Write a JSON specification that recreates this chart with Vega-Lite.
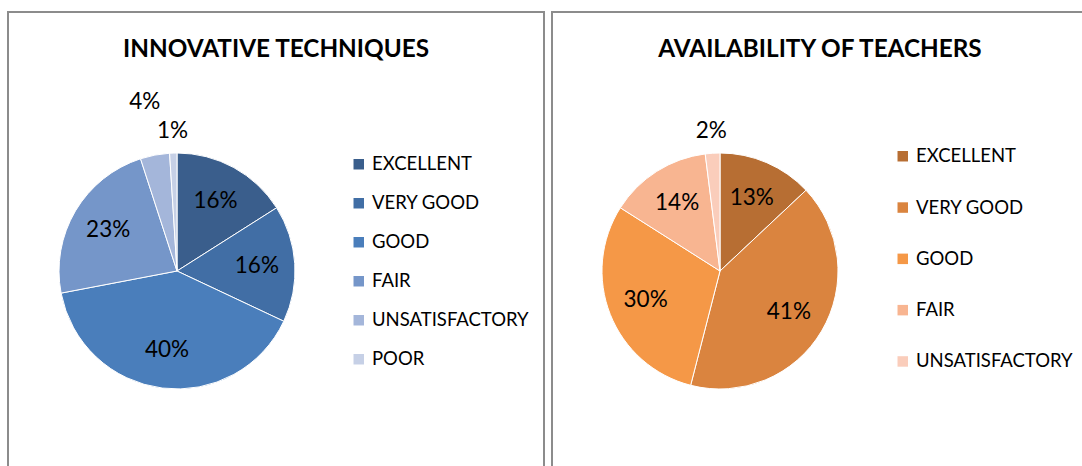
{
  "$schema": "https://vega.github.io/schema/vega-lite/v6.json",
  "background": "white",
  "padding": {"left": 7, "top": 11, "right": 0, "bottom": 0},
  "spacing": 6,
  "config": {
    "view": {"stroke": "#8c8c8c", "strokeWidth": 2},
    "font": "Lato",
    "title": {"font": "Lato", "fontSize": 24.3, "fontWeight": "bold", "color": "#000000", "anchor": "middle", "offset": -50},
    "legend": {"orient": "none", "legendX": 341.5, "legendY": 143, "title": null, "symbolType": "square", "symbolSize": 110, "symbolStrokeWidth": 0, "labelFont": "Lato", "labelFontSize": 18.5, "labelColor": "#000000", "labelOffset": 4, "labelLimit": 300}
  },
  "datasets": {
    "innov": [
      {"rating": "EXCELLENT", "order": 1, "value": 0.16},
      {"rating": "VERY GOOD", "order": 2, "value": 0.16},
      {"rating": "GOOD", "order": 3, "value": 0.40},
      {"rating": "FAIR", "order": 4, "value": 0.23},
      {"rating": "UNSATISFACTORY", "order": 5, "value": 0.04},
      {"rating": "POOR", "order": 6, "value": 0.01}
    ],
    "avail": [
      {"rating": "EXCELLENT", "order": 1, "value": 0.13},
      {"rating": "VERY GOOD", "order": 2, "value": 0.41},
      {"rating": "GOOD", "order": 3, "value": 0.30},
      {"rating": "FAIR", "order": 4, "value": 0.14},
      {"rating": "UNSATISFACTORY", "order": 5, "value": 0.02}
    ]
  },
  "hconcat": [
    {
      "width": 536,
      "height": 460,
      "view": {"stroke": "#8c8c8c", "strokeWidth": 2},
      "title": {"text": "INNOVATIVE TECHNIQUES"},
      "data": {"name": "innov"},
      "encoding": {
        "theta": {"field": "value", "type": "quantitative", "stack": true},
        "order": {"field": "order", "type": "quantitative"}
      },
      "layer": [
        {
          "mark": {"type": "arc", "outerRadius": 118, "stroke": "white", "strokeWidth": 1, "x": 169, "y": 259},
          "encoding": {
            "color": {
              "field": "rating", "type": "nominal",
              "scale": {"domain": ["EXCELLENT", "VERY GOOD", "GOOD", "FAIR", "UNSATISFACTORY", "POOR"], "range": ["#3A5E8C", "#416EA5", "#4A7EBB", "#7596C9", "#A4B6DA", "#C6D0E6"]},
              "legend": {"rowPadding": 20}
            }
          }
        },
        {
          "mark": {"type": "text", "fontSize": 22.5, "font": "Lato", "color": "#000000", "x": 169, "y": 259, "radius": {"expr": "datum.value < 0.03 ? 140 : (datum.value < 0.05 ? 172 : 80)"}},
          "encoding": {
            "text": {"field": "value", "type": "quantitative", "format": ".0%"}
          }
        }
      ]
    },
    {
      "width": 536,
      "height": 460,
      "view": {"stroke": "#8c8c8c", "strokeWidth": 2},
      "title": {"text": "AVAILABILITY OF TEACHERS"},
      "data": {"name": "avail"},
      "encoding": {
        "theta": {"field": "value", "type": "quantitative", "stack": true},
        "order": {"field": "order", "type": "quantitative"}
      },
      "layer": [
        {
          "mark": {"type": "arc", "outerRadius": 118, "stroke": "white", "strokeWidth": 1, "x": 168, "y": 259},
          "encoding": {
            "color": {
              "field": "rating", "type": "nominal",
              "scale": {"domain": ["EXCELLENT", "VERY GOOD", "GOOD", "FAIR", "UNSATISFACTORY"], "range": ["#B76E33", "#DA843F", "#F59847", "#F8B591", "#FACDBB"]},
              "legend": {"rowPadding": 32.3, "legendY": 135}
            }
          }
        },
        {
          "mark": {"type": "text", "fontSize": 22.5, "font": "Lato", "color": "#000000", "x": 168, "y": 259, "radius": {"expr": "datum.value < 0.03 ? 140 : (datum.value < 0.05 ? 172 : 80)"}},
          "encoding": {
            "text": {"field": "value", "type": "quantitative", "format": ".0%"}
          }
        }
      ]
    }
  ],
  "resolve": {"scale": {"color": "independent"}, "legend": {"color": "independent"}}
}
